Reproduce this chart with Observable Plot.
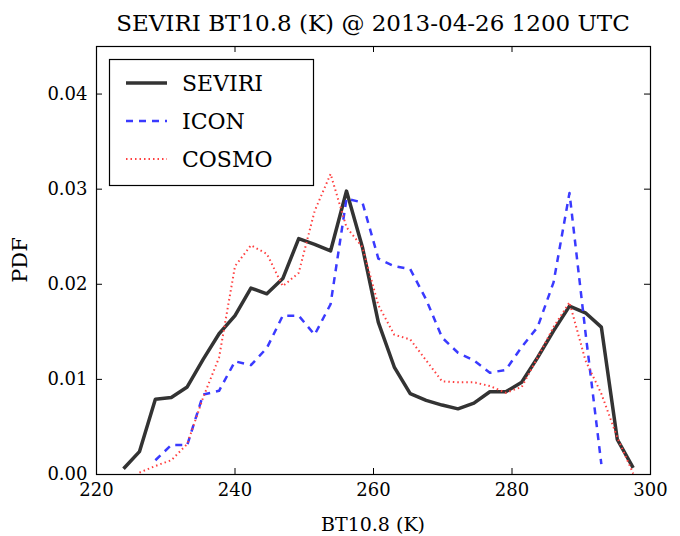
<!DOCTYPE html>
<html>
<head>
<meta charset="utf-8">
<script src="https://cdn.jsdelivr.net/npm/d3@7"></script>
<script src="https://cdn.jsdelivr.net/npm/@observablehq/plot@0.6"></script>
<style>
  html, body { margin: 0; padding: 0; background: #fff; }
  svg text { font-family: "DejaVu Serif", serif; }
</style>
</head>
<body>
<div id="chart"></div>
<script>
const title = "SEVIRI BT10.8 (K) @ 2013-04-26 1200 UTC";
const xLabel = "BT10.8 (K)";
const yLabel = "PDF";
const xTicks = [220, 240, 260, 280, 300];
const yTicks = [0, 0.01, 0.02, 0.03, 0.04];

const seviriX = [223.9, 226.2, 228.5, 230.8, 233.1, 235.4, 237.7, 240.0, 242.3, 244.6, 246.9, 249.2, 251.5, 253.8, 256.1, 258.4, 260.7, 263.0, 265.3, 267.6, 269.9, 272.2, 274.5, 276.8, 279.1, 281.4, 283.7, 286.0, 288.3, 290.6, 292.9, 295.2, 297.5];
const seviriY = [0.0006, 0.0024, 0.0079, 0.0081, 0.0092, 0.0121, 0.0148, 0.0167, 0.0196, 0.0190, 0.0206, 0.0248, 0.0242, 0.0235, 0.0298, 0.0239, 0.0160, 0.0113, 0.0085, 0.0078, 0.0073, 0.0069, 0.0075, 0.0087, 0.0087, 0.0097, 0.0123, 0.0151, 0.0177, 0.0170, 0.0155, 0.0037, 0.0007];

const iconX = [228.5, 230.8, 233.1, 235.4, 237.7, 240.0, 242.3, 244.6, 246.9, 249.2, 251.5, 253.8, 256.1, 258.4, 260.7, 263.0, 265.3, 267.6, 269.9, 272.2, 274.5, 276.8, 279.1, 281.4, 283.7, 286.0, 288.3, 290.6, 292.9];
const iconY = [0.0015, 0.0031, 0.0031, 0.0084, 0.0088, 0.0119, 0.0115, 0.0133, 0.0167, 0.0167, 0.0147, 0.0179, 0.0290, 0.0286, 0.0227, 0.0219, 0.0216, 0.0184, 0.0144, 0.0128, 0.0120, 0.0107, 0.0110, 0.0134, 0.0155, 0.0202, 0.0296, 0.0150, 0.0011];

const cosmoX = [226.2, 228.5, 230.8, 233.1, 235.4, 237.7, 240.0, 242.3, 244.6, 246.9, 249.2, 251.5, 253.8, 256.1, 258.4, 260.7, 263.0, 265.3, 267.6, 269.9, 272.2, 274.5, 276.8, 279.1, 281.4, 283.7, 286.0, 288.3, 290.6, 292.9, 295.2, 297.5];
const cosmoY = [0.0002, 0.0009, 0.0015, 0.0032, 0.0081, 0.0123, 0.0219, 0.0241, 0.0232, 0.0198, 0.0212, 0.0277, 0.0316, 0.0260, 0.0239, 0.0178, 0.0147, 0.0142, 0.0120, 0.0098, 0.0097, 0.0097, 0.0093, 0.0086, 0.0092, 0.0123, 0.0155, 0.0181, 0.0120, 0.0085, 0.0039, 0.0001];

const seriesNames = ["SEVIRI", "ICON", "COSMO"];
const seriesStyle = {
  SEVIRI: {stroke: "#333333", strokeWidth: 3.5, dash: null},
  ICON:   {stroke: "#3a3aff", strokeWidth: 2.5, dash: "7,6"},
  COSMO:  {stroke: "#ff4040", strokeWidth: 2, dash: "1.5,3"}
};

const toRows = (xs, ys) => xs.map((x, i) => ({x, y: ys[i]}));
const seriesData = {
  SEVIRI: toRows(seviriX, seviriY),
  ICON: toRows(iconX, iconY),
  COSMO: toRows(cosmoX, cosmoY)
};

const W = 680, H = 536, mL = 96, mR = 30, mT = 46, mB = 62;
const innerW = W - mL - mR, innerH = H - mT - mB;
const tl = 6;

const lineMarks = seriesNames.map(name => Plot.line(seriesData[name], {
  x: "x", y: "y",
  stroke: seriesStyle[name].stroke,
  strokeWidth: seriesStyle[name].strokeWidth,
  strokeDasharray: seriesStyle[name].dash,
  strokeLinejoin: "round",
  strokeLinecap: "butt"
}));

const chart = Plot.plot({
  width: W, height: H,
  marginLeft: mL, marginRight: mR, marginTop: mT, marginBottom: mB,
  style: {fontFamily: "DejaVu Serif, serif", background: "#fff"},
  x: {domain: [220, 300]},
  y: {domain: [0, 0.045]},
  marks: [
    Plot.axisX(xTicks, {tickSize: 0, tickPadding: 9, fontSize: 18, label: null, tickFormat: d => String(d), fill: "#000"}),
    Plot.axisY(yTicks, {tickSize: 0, tickPadding: 9, fontSize: 18, label: null, tickFormat: d3.format(".2f"), fill: "#000"}),
    ...lineMarks,
    Plot.tickX(xTicks, {x: d => d, insetTop: innerH - tl, stroke: "#000"}),
    Plot.tickX(xTicks, {x: d => d, insetBottom: innerH - tl, stroke: "#000"}),
    Plot.tickY(yTicks, {y: d => d, insetRight: innerW - tl, stroke: "#000"}),
    Plot.tickY(yTicks, {y: d => d, insetLeft: innerW - tl, stroke: "#000"}),
    Plot.frame({stroke: "#000", strokeWidth: 1.2})
  ]
});

const svg = d3.select(chart);
svg.append("text")
  .attr("x", mL + innerW / 2).attr("y", 31)
  .attr("text-anchor", "middle")
  .attr("font-size", 23).attr("fill", "#000")
  .text(title);
svg.append("text")
  .attr("x", mL + innerW / 2).attr("y", 531)
  .attr("text-anchor", "middle")
  .attr("font-size", 19).attr("fill", "#000")
  .text(xLabel);
svg.append("text")
  .attr("transform", `translate(27,${mT + innerH / 2}) rotate(-90)`)
  .attr("text-anchor", "middle")
  .attr("font-size", 21).attr("fill", "#000")
  .text(yLabel);

// legend
const lg = svg.append("g");
lg.append("rect")
  .attr("x", 109.5).attr("y", 59.5).attr("width", 204).attr("height", 126)
  .attr("fill", "#fff").attr("stroke", "#000").attr("stroke-width", 1.2);
seriesNames.forEach((name, i) => {
  const yy = 83 + i * 38;
  const s = seriesStyle[name];
  lg.append("line")
    .attr("x1", 126).attr("x2", 167).attr("y1", yy).attr("y2", yy)
    .attr("stroke", s.stroke).attr("stroke-width", s.strokeWidth)
    .attr("stroke-dasharray", s.dash);
  lg.append("text")
    .attr("x", 182).attr("y", yy).attr("dy", "0.36em")
    .attr("text-anchor", "start")
    .attr("font-size", 22).attr("fill", "#000")
    .text(name);
});

document.getElementById("chart").appendChild(chart);
</script>
</body>
</html>
